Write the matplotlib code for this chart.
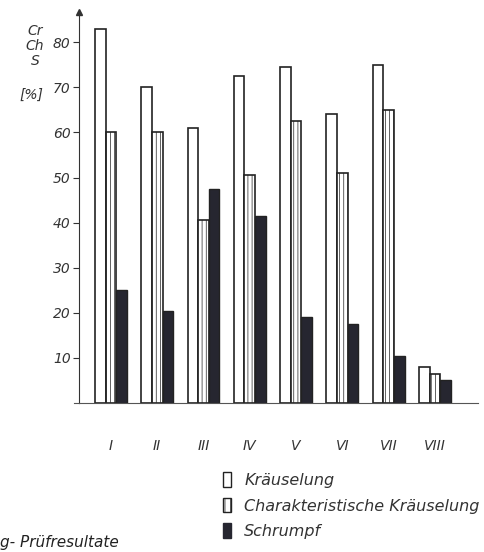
import numpy as np
import matplotlib.pyplot as plt
from matplotlib.patches import Patch

# Werte
gruppen = ['I', 'II', 'III', 'IV', 'V', 'VI', 'VII', 'VIII']
kraeuselung = [83, 70, 61, 72.5, 74.5, 64, 75, 8]
char_kraeuselung = [60, 60, 40.5, 50.5, 62.5, 51, 65, 6.5]
schrumpf = [25, 20.5, 47.5, 41.5, 19, 17.5, 10.5, 5]
yticks = [10, 20, 30, 40, 50, 60, 70, 80]

plt.rcParams['font.family'] = ['DejaVu Sans']
plt.rcParams['font.style'] = 'italic'
plt.rcParams['hatch.linewidth'] = 0.5
txt = '#333333'

fig = plt.figure(figsize=(4.84, 5.52), dpi=100)
ax = fig.add_axes([79/484, 1-403/552, 399/484, 391/552])

x = np.arange(len(gruppen))
w = 0.23
ax.bar(x - w, kraeuselung, w, color='white', edgecolor='#222222', linewidth=1.2)
ax.bar(x, char_kraeuselung, w, color='white', edgecolor='#222222', linewidth=1.2, hatch='||||')
ax.bar(x + w, schrumpf, w, color='#262630', edgecolor='#222222', linewidth=1.0)

ax.set_xlim(-0.69, 7.93)
ax.set_ylim(0, 86.7)
for s in ['top', 'right']:
    ax.spines[s].set_visible(False)
ax.spines['left'].set_color('#333333')
ax.spines['bottom'].set_color('#555555')
ax.axhline(0, xmin=-0.012, xmax=0, color='#555555', lw=0.8, clip_on=False)
# Pfeil an der y-Achse
ax.plot([-0.69], [86.7], marker='^', color='#333333', markersize=5, clip_on=False)

ax.set_yticks(yticks)
ax.set_yticklabels([str(v) for v in yticks], fontsize=10, color=txt)
ax.tick_params(axis='y', direction='out', length=4, width=0.8, pad=2, colors='#333333')
ax.set_xticks(x)
ax.set_xticklabels(gruppen, fontsize=10, color=txt)
ax.tick_params(axis='x', length=0, pad=26)

fig.text(35/484, 1-46/552, 'Cr\nCh\nS', ha='center', va='center', fontsize=10,
         color=txt, linespacing=1.05)
fig.text(31/484, 1-95/552, '[%]', ha='center', va='center', fontsize=10, color=txt)

handles = [Patch(facecolor='white', edgecolor='#222222', lw=1.0),
           Patch(facecolor='white', edgecolor='#222222', lw=1.0, hatch='|||'),
           Patch(facecolor='#262630', edgecolor='#262630')]
labels = ['Kräuselung', 'Charakteristische Kräuselung', 'Schrumpf']
fig.legend(handles, labels, loc='upper left', bbox_to_anchor=(209/484, 1-458/552),
           frameon=False, handlelength=0.46, handleheight=1.0, handletextpad=0.85,
           labelspacing=0.62, fontsize=11.5, labelcolor=txt)

fig.text(0, 1-547/552, 'g- Prüfresultate', ha='left', va='baseline', fontsize=11,
         color='#222222')

fig.savefig('out.png', dpi=100)
